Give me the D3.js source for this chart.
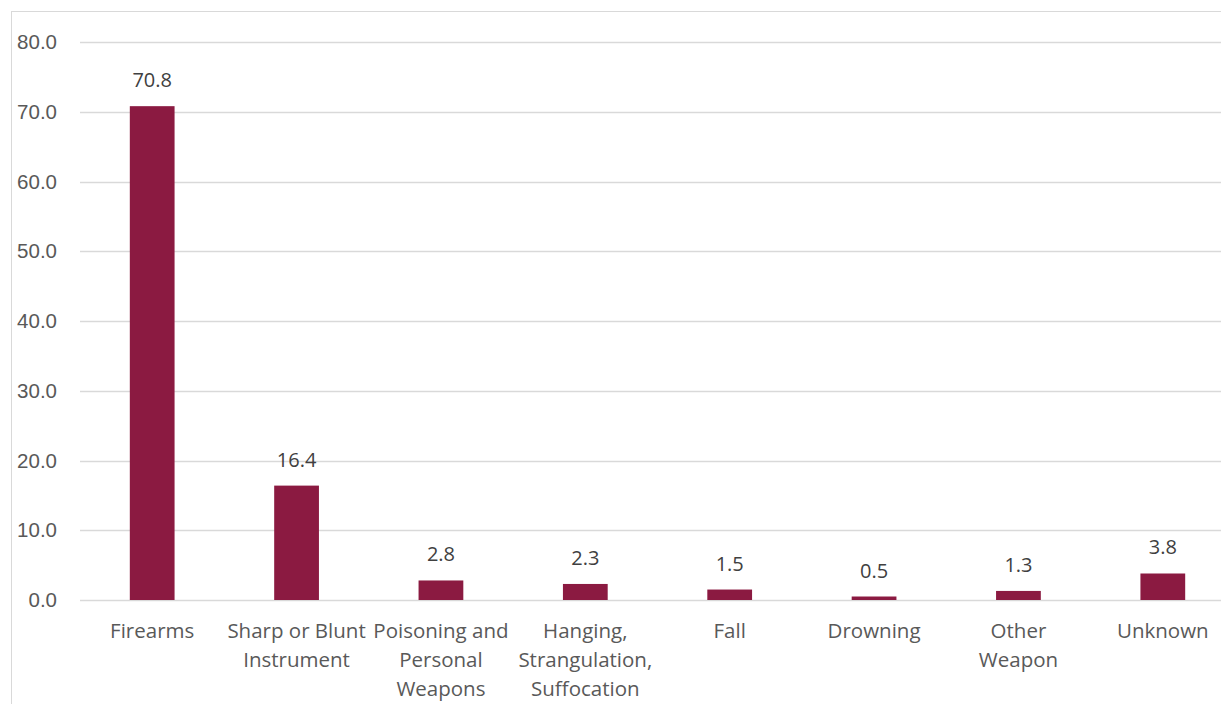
<!DOCTYPE html>
<html>
<head>
<meta charset="utf-8">
<script src="https://cdn.jsdelivr.net/npm/d3@7"></script>
<style>
  html, body { margin: 0; padding: 0; background: #fff; overflow: hidden; }
  svg { display: block; font-family: "Open Sans", "Noto Sans", sans-serif; }
</style>
</head>
<body>
<svg id="chart" width="1221" height="704"></svg>
<script>
const categories = [
  ["Firearms"],
  ["Sharp or Blunt", "Instrument"],
  ["Poisoning and", "Personal", "Weapons"],
  ["Hanging,", "Strangulation,", "Suffocation"],
  ["Fall"],
  ["Drowning"],
  ["Other", "Weapon"],
  ["Unknown"]
];
const values = [70.8, 16.4, 2.8, 2.3, 1.5, 0.5, 1.3, 3.8];
const yTicks = [0, 10, 20, 30, 40, 50, 60, 70, 80];

const svg = d3.select("#chart");
const W = 1221, H = 704;

// chart frame
svg.append("rect")
  .attr("x", 11.5).attr("y", 11.5)
  .attr("width", W + 20).attr("height", H + 20)
  .attr("fill", "none").attr("stroke", "#d9d9d9").attr("stroke-width", 1);

const plotLeft = 80, plotRight = 1235, plotTop = 42, plotBottom = 600;
const keys = categories.map((c, i) => i);

const x = d3.scaleBand().domain(keys).range([plotLeft, plotRight]).paddingInner(0.69).paddingOuter(0.345);
const y = d3.scaleLinear().domain([0, 80]).range([plotBottom, plotTop]);

// gridlines
svg.append("g").selectAll("line").data(yTicks).join("line")
  .attr("x1", plotLeft).attr("x2", W)
  .attr("y1", d => Math.round(y(d)) + 0.5).attr("y2", d => Math.round(y(d)) + 0.5)
  .attr("stroke", "#d9d9d9").attr("stroke-width", 1.3);

// y axis labels
const yAxis = d3.axisLeft(y).tickValues(yTicks).tickFormat(d3.format(".1f")).tickSize(0).tickPadding(0);
const yg = svg.append("g").attr("transform", `translate(${plotLeft - 23},0)`).call(yAxis);
yg.select(".domain").remove();
yg.selectAll("text").attr("fill", "#595959").attr("font-size", 20.5).attr("font-family", null);

// bars
svg.append("g").selectAll("rect").data(values).join("rect")
  .attr("x", (d, i) => x(i))
  .attr("width", x.bandwidth())
  .attr("y", d => y(d))
  .attr("height", d => y(0) - y(d))
  .attr("fill", "#8b1a41");

// value labels
svg.append("g").selectAll("text").data(values).join("text")
  .attr("x", (d, i) => x(i) + x.bandwidth() / 2)
  .attr("y", d => y(d) - 19)
  .attr("text-anchor", "middle")
  .attr("fill", "#404040").attr("font-size", 20)
  .text(d => d3.format(".1f")(d));

// category labels
const xg = svg.append("g");
categories.forEach((lines, i) => {
  const t = xg.append("text")
    .attr("x", x(i) + x.bandwidth() / 2)
    .attr("y", 638)
    .attr("text-anchor", "middle")
    .attr("fill", "#595959").attr("font-size", 20.5);
  lines.forEach((ln, j) => {
    t.append("tspan").attr("x", x(i) + x.bandwidth() / 2).attr("dy", j === 0 ? 0 : 29).text(ln);
  });
});
</script>
</body>
</html>
